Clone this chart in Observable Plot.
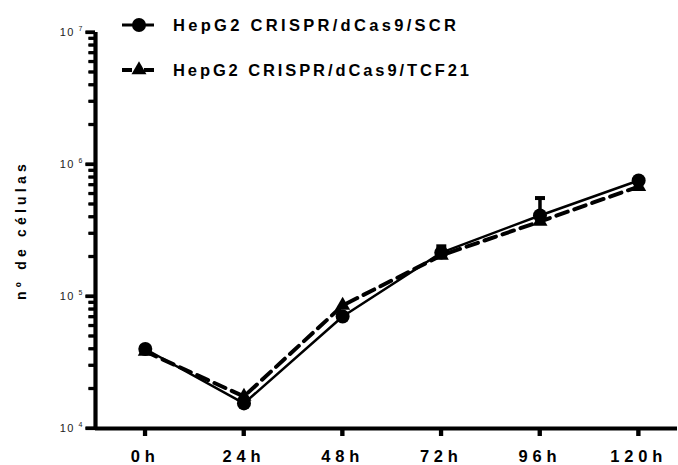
<!DOCTYPE html>
<html>
<head>
<meta charset="utf-8">
<script src="https://cdn.jsdelivr.net/npm/d3@7"></script>
<script src="https://cdn.jsdelivr.net/npm/@observablehq/plot@0.6"></script>
<style>
  html, body { margin: 0; padding: 0; background: #fff; }
  #chart { position: relative; width: 678px; height: 465px; }
</style>
</head>
<body>
<div id="chart"></div>
<script>
// ---- data ----
const hours = [0, 24, 48, 72, 96, 120];
const hourLabels = ["0h", "24h", "48h", "72h", "96h", "120h"];
const seriesNames = ["HepG2 CRISPR/dCas9/SCR", "HepG2 CRISPR/dCas9/TCF21"];
const scrValues = [40000, 15500, 70500, 215000, 411000, 757000];
const tcfValues = [38300, 17500, 85500, 205000, 370000, 681000];
const scrErrHours = [72, 96];
const scrErrLow = [215000, 411000];
const scrErrHigh = [240000, 557000];
const yMajorTicks = [1e4, 1e5, 1e6, 1e7];
const yMajorBase = ["10", "10", "10", "10"];
const yMajorExp = ["4", "5", "6", "7"];
const yMinorTicks = [2e4, 3e4, 4e4, 5e4, 6e4, 7e4, 8e4, 9e4,
                     2e5, 3e5, 4e5, 5e5, 6e5, 7e5, 8e5, 9e5,
                     2e6, 3e6, 4e6, 5e6, 6e6, 7e6, 8e6, 9e6];
const yLabel = "nº de células";
const xDomain = [-12.11, 129.45];
const yDomain = [1e4, 1e7];

// ---- layout ----
const W = 678, H = 465, mT = 32, mB = 37, mL = 95, mR = 1;
const pxPerHour = (W - mL - mR) / (xDomain[1] - xDomain[0]);
const pxPerDecade = (H - mT - mB) / Math.log10(yDomain[1] / yDomain[0]);
const xLeftBy = px => xDomain[0] - px / pxPerHour;
const yBelowBy = px => yDomain[0] / Math.pow(10, px / pxPerDecade);

// ---- tables ----
const scrRows = hours.map((h, i) => ({hour: h, value: scrValues[i], series: seriesNames[0]}));
const tcfRows = hours.map((h, i) => ({hour: h, value: tcfValues[i], series: seriesNames[1]}));
const errRows = scrErrHours.map((h, i) => ({hour: h, low: scrErrLow[i], high: scrErrHigh[i]}));

const capSymbol = {draw(c, size) { const w = Math.sqrt(size / Math.PI); c.moveTo(-w, 0); c.lineTo(w, 0); }};

const font = "'Liberation Sans', Arial, Helvetica, sans-serif";

const plot = Plot.plot({
  width: W,
  height: H,
  marginTop: mT,
  marginBottom: mB,
  marginLeft: mL,
  marginRight: mR,
  style: {fontFamily: font, background: "white", color: "black", overflow: "visible"},
  x: {domain: xDomain, axis: null},
  y: {type: "log", domain: yDomain, axis: null},
  marks: [
    // y ticks
    Plot.ruleY(yMinorTicks, {y: d => d, x1: xLeftBy(6.5), x2: xDomain[0], stroke: "black", strokeWidth: 2.8}),
    Plot.ruleY(yMajorTicks, {y: d => d, x1: xLeftBy(9.5), x2: xDomain[0], stroke: "black", strokeWidth: 3.2}),
    Plot.text(yMajorTicks, {x: () => xDomain[0], y: d => d, text: (d, i) => yMajorBase[i], textAnchor: "end",
      dx: -20.5, fontSize: 11, fill: "#222"}),
    Plot.text(yMajorTicks, {x: () => xDomain[0], y: d => d, text: (d, i) => yMajorExp[i], textAnchor: "end",
      dx: -13, dy: -4, fontSize: 7, fill: "#222"}),
    // x ticks
    Plot.ruleX(hours, {x: d => d, y1: yDomain[0], y2: yBelowBy(8), stroke: "black", strokeWidth: 3.8}),
    Plot.text(hours, {x: d => d, y: () => yDomain[0], text: (d, i) => hourLabels[i], dy: 28,
      fontSize: 16.5, fontWeight: "bold"}),
    // axis lines
    Plot.ruleX([xDomain[0]], {stroke: "black", strokeWidth: 4.2}),
    Plot.ruleY([yDomain[0]], {stroke: "black", strokeWidth: 4.2}),
    // data
    Plot.line(tcfRows, {x: "hour", y: "value", stroke: "black", strokeWidth: 4, strokeDasharray: "12,7"}),
    Plot.line(scrRows, {x: "hour", y: "value", stroke: "black", strokeWidth: 2.5}),
    Plot.ruleX(errRows, {x: "hour", y1: "low", y2: "high", stroke: "black", strokeWidth: 3.5}),
    Plot.dot(errRows, {x: "hour", y: "high", symbol: capSymbol, r: 5, fill: "none", stroke: "black", strokeWidth: 4}),
    Plot.dot(tcfRows, {x: "hour", y: "value", symbol: "triangle", r: 5.6, fill: "black", stroke: "none"}),
    Plot.dot(scrRows, {x: "hour", y: "value", symbol: "circle", r: 7, fill: "black", stroke: "none"})
  ]
});

document.getElementById("chart").appendChild(plot);

const svg = d3.select(plot);

// tick stubs reinforced through Plot's own scales (outside the frame)
const sx = plot.scale("x"), sy = plot.scale("y");
const x0 = sx.apply(xDomain[0]), y0 = sy.apply(yDomain[0]);
const tickG = svg.append("g").attr("stroke", "black");
yMinorTicks.forEach(v => tickG.append("line")
  .attr("x1", x0 - 6.5).attr("x2", x0).attr("y1", sy.apply(v)).attr("y2", sy.apply(v)).attr("stroke-width", 2.8));
yMajorTicks.forEach(v => tickG.append("line")
  .attr("x1", x0 - 9.5).attr("x2", x0).attr("y1", sy.apply(v)).attr("y2", sy.apply(v)).attr("stroke-width", 3.2));
hours.forEach(h => tickG.append("line")
  .attr("x1", sx.apply(h)).attr("x2", sx.apply(h)).attr("y1", y0).attr("y2", y0 + 8).attr("stroke-width", 3.8));

// letter spacing on tick labels
svg.selectAll("text").each(function() {
  const t = this.textContent;
  if (hourLabels.includes(t)) this.style.letterSpacing = "4.8px";
  else if (t === "10") this.style.letterSpacing = "1.5px";
});

// y-axis title
svg.append("text")
  .attr("transform", "translate(26,230) rotate(-90)")
  .attr("text-anchor", "middle")
  .attr("font-family", font)
  .attr("font-size", 14)
  .attr("font-weight", "bold")
  .attr("style", "letter-spacing:4.2px")
  .text(yLabel);

// legend
const legend = svg.append("g").attr("font-family", font).attr("text-anchor", "start");
const rowsY = [25, 70];
const legendTextLen = [283, 296];
legend.append("line").attr("x1", 122).attr("x2", 154).attr("y1", rowsY[0]).attr("y2", rowsY[0])
  .attr("stroke", "black").attr("stroke-width", 3);
legend.append("circle").attr("cx", 139).attr("cy", rowsY[0]).attr("r", 7).attr("fill", "black");
legend.append("line").attr("x1", 122).attr("x2", 154).attr("y1", rowsY[1]).attr("y2", rowsY[1])
  .attr("stroke", "black").attr("stroke-width", 4).attr("stroke-dasharray", "10,12");
legend.append("path").attr("transform", `translate(139,${rowsY[1]})`)
  .attr("d", d3.symbol(d3.symbolTriangle, 97.4)()).attr("fill", "black");
seriesNames.forEach((name, i) => {
  legend.append("text")
    .attr("x", 173).attr("y", rowsY[i]).attr("dy", "0.36em")
    .attr("text-anchor", "start")
    .attr("font-size", 16.5).attr("font-weight", "bold")
    .attr("textLength", legendTextLen[i]).attr("lengthAdjust", "spacing")
    .text(name);
});
</script>
</body>
</html>
